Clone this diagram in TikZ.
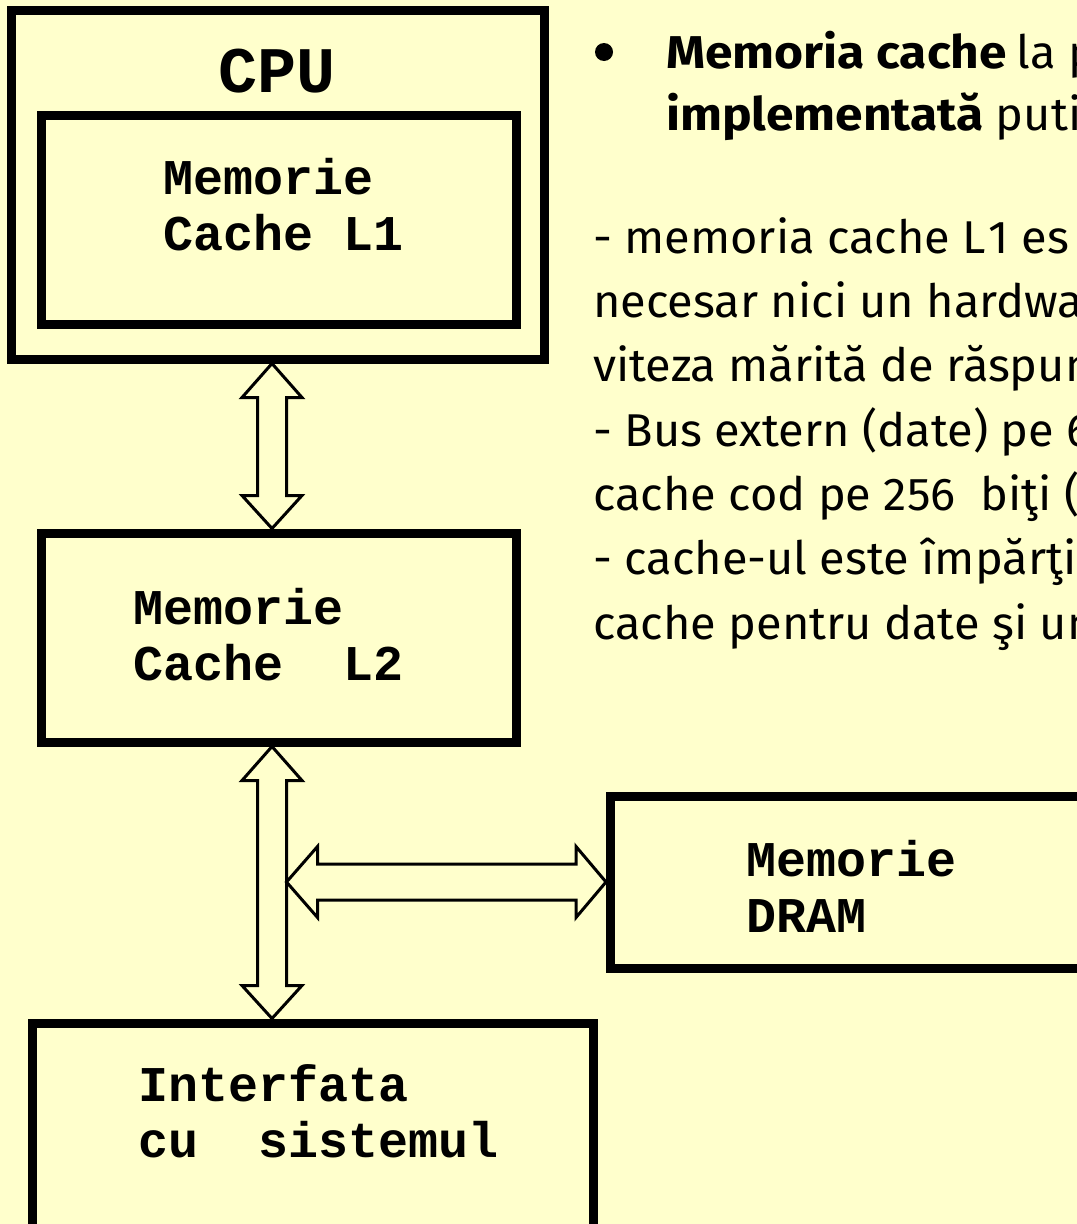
\documentclass[tikz,border=0pt]{standalone}
\usepackage{fontspec}
\setmainfont{Fira Sans}[UprightFeatures={FakeStretch=1.02},BoldFeatures={FakeStretch=1.08}]
\setmonofont{Liberation Mono}
\usetikzlibrary{calc}

\definecolor{slidebg}{RGB}{255,255,204}
\newcommand\monotxt{\ttfamily\bfseries\fontsize{37.5}{42}\selectfont}
% bus arrows: tip to tip
\newcommand\vbus[2]{\draw[bus] (#1) -- ++(30,34) -- ++(-15.5,0) -- ($(#2)+(14.5,-33)$)
  -- ++(15.5,0) -- (#2) -- ++(-30,-33) -- ++(15.5,0) -- ($(#1)+(-14.5,34)$) -- ++(-15.5,0) -- cycle;}
\newcommand\hbus[2]{\draw[bus] (#1) -- ++(31,-35.5) -- ++(0,17.5) -- ($(#2)+(-30,-18)$)
  -- ++(0,-17.5) -- (#2) -- ++(-30,35.5) -- ++(0,-17.5) -- ($(#1)+(31,18)$) -- ++(0,17.5) -- cycle;}

\begin{document}
\begin{tikzpicture}[x=0.75pt,y=-0.75pt,
  block/.style={draw,line width=6.75pt,inner sep=0pt},
  lbl/.style={anchor=base west,inner sep=0pt,align=left,font=\monotxt},
  bus/.style={draw,line width=2.25pt,fill=slidebg,line join=miter},
  txt/.style={anchor=base west,inner sep=0pt,align=left}]

\fill[slidebg] (0,0) rectangle (1077,1224);
\clip (0,0) rectangle (1077,1224);

% blocks
\node[block,minimum width=400pt,minimum height=261.75pt] (cpu) at (278.3,184.5) {};
\node[block,minimum width=356.25pt,minimum height=156.75pt] (l1) at (279.1,219.5) {};
\node[block,minimum width=356.25pt,minimum height=156.75pt] (l2) at (279.1,637.5) {};
\node[block,minimum width=375pt,minimum height=129pt] (dram) at (860.5,882) {};
\node[block,minimum width=420.4pt,minimum height=170.25pt] (sys) at (313.25,1136.5) {};

% labels (base = last line)
\node[anchor=base west,inner sep=0pt,font=\ttfamily\bfseries\fontsize{48.75}{50}\selectfont] (cputxt) at (218,92) {CPU};
\node[lbl] (l1txt) at (163,250) {Memorie\\Cache L1};
\node[lbl] (l2txt) at (133,680) {Memorie\\Cache~~L2};
\node[lbl] (dramtxt) at (746,932) {Memorie\\DRAM};
\node[lbl] (systxt) at (138,1157) {Interfata\\cu~~sistemul};

% buses
\coordinate (bx) at (272,0);
\coordinate (h1) at ($(bx |- dram.west)+(14.5,0)$);
\coordinate (t1) at (bx |- cpu.south);
\coordinate (b1) at (bx |- l2.north);
\coordinate (t2) at (bx |- l2.south);
\coordinate (b2) at (bx |- sys.north);
\vbus{t1}{b1}
\vbus{t2}{b2}
\hbus{h1}{dram.west}

% text
\node[circle,fill,inner sep=0pt,minimum size=13.5pt] (dot) at (604,52) {};
\node[txt,font=\fontsize{34.5}{46.5}\selectfont] (head) at (666,130)
  {\textbf{Memoria cache}\kern-2pt{} la p\\\textbf{implementată} puti};
\node[txt,font=\fontsize{34.5}{48.2}\selectfont] (body) at (593,639)
  {- memoria cache L\kern2pt{}1 es\\necesar nici un hardwa\\viteza mărită de răspun\\- Bus extern (date) pe 6\\cache cod pe 256~~biţi (\\- cache-ul este împărţi\\cache pentru date şi un};
\end{tikzpicture}
\end{document}
